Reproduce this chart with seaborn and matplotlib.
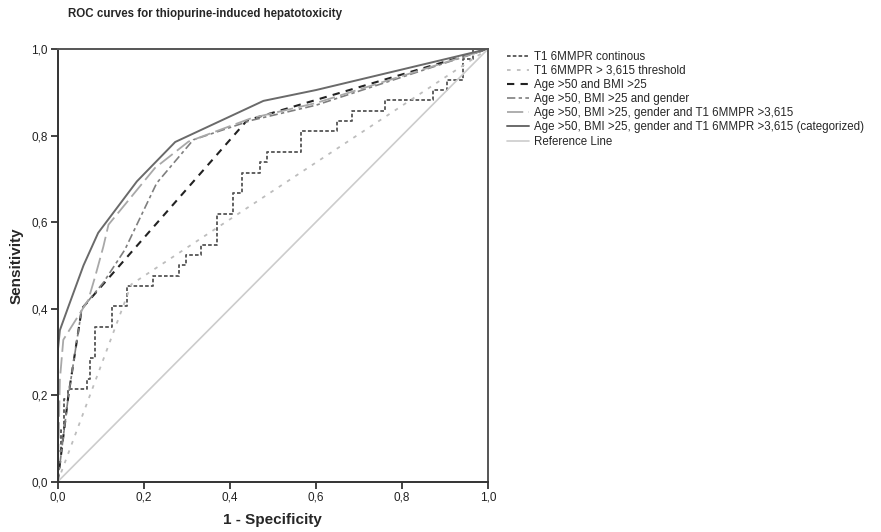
import numpy as np
import pandas as pd
import matplotlib
matplotlib.use("Agg")
import matplotlib.pyplot as plt
from matplotlib.ticker import FuncFormatter
import seaborn as sns

# ROC coordinates (1 - specificity, sensitivity)
cont_fpr = [0.0, 0.0, 0.008, 0.015, 0.025, 0.067, 0.075, 0.087, 0.125, 0.16, 0.222, 0.283, 0.298,
            0.333, 0.37, 0.408, 0.428, 0.47, 0.487, 0.565, 0.649, 0.683, 0.761, 0.873, 0.904,
            0.941, 0.966, 1.0]
cont_tpr = [0.0, 0.07, 0.12, 0.19, 0.214, 0.238, 0.286, 0.357, 0.405, 0.452, 0.476, 0.5, 0.524,
            0.548, 0.619, 0.667, 0.714, 0.738, 0.762, 0.81, 0.833, 0.857, 0.881, 0.905, 0.929,
            0.976, 1.0, 1.0]

thr_fpr = [0.0, 0.171, 1.0]
thr_tpr = [0.0, 0.456, 1.0]

agebmi_fpr = [0.0, 0.025, 0.056, 0.44, 1.0]
agebmi_tpr = [0.0, 0.2, 0.40, 0.835, 1.0]

gender_fpr = [0.0, 0.025, 0.056, 0.106, 0.156, 0.23, 0.315, 0.45, 0.6, 1.0]
gender_tpr = [0.0, 0.2, 0.40, 0.46, 0.536, 0.69, 0.79, 0.835, 0.87, 1.0]

full_fpr = [0.0, 0.005, 0.013, 0.071, 0.087, 0.106, 0.118, 0.226, 0.304, 0.45, 0.6, 1.0]
full_tpr = [0.0, 0.235, 0.328, 0.42, 0.474, 0.543, 0.594, 0.725, 0.786, 0.84, 0.875, 1.0]

cat_fpr = [0.0, 0.0, 0.005, 0.025, 0.06, 0.094, 0.184, 0.273, 0.478, 0.6, 1.0]
cat_tpr = [0.0, 0.3, 0.35, 0.405, 0.5, 0.575, 0.694, 0.785, 0.88, 0.905, 1.0]

ref_fpr = [0.0, 1.0]
ref_tpr = [0.0, 1.0]

labels = ["T1 6MMPR continous",
          "T1 6MMPR > 3,615 threshold",
          "Age >50 and BMI >25",
          "Age >50, BMI >25 and gender",
          "Age >50, BMI >25, gender and T1 6MMPR >3,615",
          "Age >50, BMI >25, gender and T1 6MMPR >3,615 (categorized)",
          "Reference Line"]

sns.set_style("white")
plt.rcParams['font.family'] = ['Liberation Sans', 'DejaVu Sans']

fig = plt.figure(figsize=(8.81, 5.32), dpi=100)
ax = fig.add_axes([0.0655, 0.0945, 0.4885, 0.8135])

series = [
    (cont_fpr, cont_tpr, dict(color="#555555", linestyle=(0, (2, 1.2)), linewidth=1.3, drawstyle="steps-post")),
    (thr_fpr, thr_tpr, dict(color="#bdbdbd", linestyle=(0, (2, 3.5)), linewidth=1.3)),
    (agebmi_fpr, agebmi_tpr, dict(color="#222222", linestyle=(0, (3.5, 3)), linewidth=1.5)),
    (gender_fpr, gender_tpr, dict(color="#7f7f7f", linestyle=(0, (5, 2, 2, 2)), linewidth=1.2)),
    (full_fpr, full_tpr, dict(color="#a8a8a8", linestyle=(0, (9, 3)), linewidth=1.3)),
    (cat_fpr, cat_tpr, dict(color="#6a6a6a", linestyle="-", linewidth=1.4)),
    (ref_fpr, ref_tpr, dict(color="#cccccc", linestyle="-", linewidth=1.2)),
]

for (xs, ys, style), lab in zip(series, labels):
    df = pd.DataFrame({"fpr": xs, "tpr": ys})
    sns.lineplot(data=df, x="fpr", y="tpr", ax=ax, sort=False, estimator=None, label=lab, **style)

ax.set_xlim(0, 1)
ax.set_ylim(0, 1)
ax.set_xticks(np.arange(0, 1.01, 0.2))
ax.set_yticks(np.arange(0, 1.01, 0.2))
comma = FuncFormatter(lambda v, p: ("%.1f" % v).replace(".", ","))
ax.xaxis.set_major_formatter(comma)
ax.yaxis.set_major_formatter(comma)
ax.tick_params(axis="both", direction="out", length=5, width=1.2, labelsize=8.5, colors="#222222", pad=2)
ax.tick_params(axis="both", which="both", bottom=True, left=True)
for side, sp in ax.spines.items():
    sp.set_visible(True)
    sp.set_linewidth(1.4)
    sp.set_color("#333333" if side in ("left", "bottom") else "#555555")

ax.set_xlabel("1 - Specificity", fontsize=11, fontweight="bold", labelpad=7)
ax.set_ylabel("Sensitivity", fontsize=11, fontweight="bold", labelpad=6)

fig.text(0.077, 0.974, "ROC curves for thiopurine-induced hepatotoxicity", fontsize=8.3,
         fontweight="bold", ha="left", va="center")

ax.legend(loc="upper left", bbox_to_anchor=(0.576, 0.905), bbox_transform=fig.transFigure,
          frameon=False, fontsize=8.3, handlelength=1.9, handletextpad=0.4, labelspacing=0.19,
          borderaxespad=0, borderpad=0)

fig.savefig("out.png", dpi=100)
